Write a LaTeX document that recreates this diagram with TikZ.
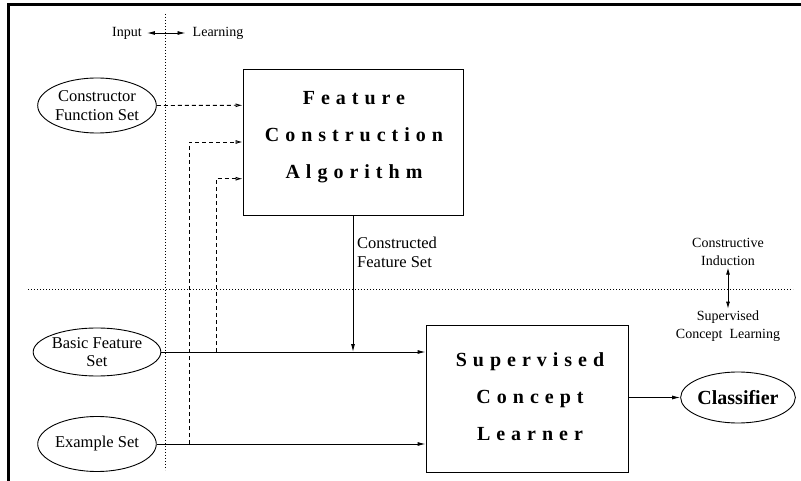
\documentclass[tikz,border=0pt]{standalone}
\usepackage{fontspec}
\setmainfont{Liberation Serif}
\usetikzlibrary{arrows.meta,shapes.geometric,calc}

\tikzset{
  setell/.style={ellipse, draw, line width=0.9pt, inner sep=0pt,
    minimum width=110pt, minimum height=55pt, align=center,
    font=\fontsize{16.5}{18.5}\selectfont},
  bigbox/.style={rectangle, draw, line width=0.9pt, inner sep=0pt},
  boxtext/.style={align=center, inner sep=0pt,
    font=\fontsize{20}{37}\selectfont\bfseries\addfontfeature{LetterSpace=30}},
  smalltxt/.style={align=center, inner sep=2pt, font=\fontsize{14}{17.5}\selectfont},
  solidarrow/.style={line width=0.9pt, -{Latex[length=8pt,width=4pt]}},
  dasharrow/.style={line width=0.9pt, dash pattern=on 4pt off 3pt,
    -{Latex[open,length=7pt,width=4pt]}},
  sepline/.style={line width=0.8pt, dash pattern=on 0.8pt off 2.2pt}
}

\begin{document}
\begin{tikzpicture}[x=1pt, y=-1pt]
    \useasboundingbox (0,0) rectangle (801,481);

    % 外框 (只有上边和左边)
    \draw[line width=3pt] (8.6,481) -- (8.6,4.5) -- (801,4.5);

    % 1. 两条点线分区
    \draw[sepline] (165,14) -- (165,470);
    \draw[sepline] (28,289) -- (793,289);

    % 2. Input / Learning 标注
    \node[smalltxt] (inp) at (127,33) {Input};
    \node[smalltxt] (lrn) at (218,33) {Learning};
    \draw[line width=0.9pt, {Latex[length=8pt,width=4pt]}-{Latex[length=8pt,width=4pt]}]
      ([xshift=3pt]inp.east) -- ([xshift=-5pt]lrn.west);

    % 3. 输入集合 (椭圆)
    \node[setell] (cfs) at (97,105.5) {Constructor\\Function Set};
    \node[setell, minimum height=48pt] (bfs) at (97,352) {Basic Feature\\Set};
    \node[setell] (exs) at (97,444) {Example Set};

    % 4. 两个方框
    \node[bigbox, minimum width=220pt, minimum height=146pt] (fca) at (353,142) {};
    \node[boxtext] (fcat) at (354,137) {Feature\\Construction\\Algorithm};
    \node[bigbox, minimum width=202pt, minimum height=147pt] (scl) at (527,398.5) {};
    \node[boxtext] (sclt) at (530,397) {Supervised\\Concept\\Learner};

    % 5. 分类器
    \node[ellipse, draw, line width=0.9pt, inner sep=0pt, minimum width=110pt,
      minimum height=51pt, font=\fontsize{20}{24}\selectfont\bfseries] (cls)
      at (738,397.5) {Classifier};

    % 6. 虚线箭头 (进入特征构造算法)
    \coordinate (j1) at (189,444);
    \coordinate (j2) at (216,352);
    \draw[dasharrow] (cfs.east) -- ($(fca.west)!0.5!(fca.north west)$);
    \draw[dasharrow] (j1) |- (fca.west);
    \draw[dasharrow] (j2) |- ($(fca.west)!0.5!(fca.south west)$);

    % 7. 实线箭头
    \draw[solidarrow] (bfs.east) -- (bfs.east -| scl.west);
    \draw[solidarrow] (exs.east) -- (exs.east -| scl.west);
    \draw[solidarrow] (fca.south) -- (fca.south |- bfs.east);
    \node[smalltxt, anchor=north west, align=left, inner sep=0pt,
      font=\fontsize{16.5}{19}\selectfont] (cfl) at (357,237) {Constructed\\Feature Set};
    \draw[solidarrow] (scl.east |- cls.west) -- (cls.west);

    % 8. 右侧说明
    \node[smalltxt] (ci) at (728,252) {Constructive\\Induction};
    \node[smalltxt] (scn) at (728,326) {Supervised\\Concept~~Learning};
    \draw[line width=0.9pt, {Latex[length=7pt,width=4pt]}-{Latex[length=7pt,width=4pt]}]
      (ci.south) -- (scn.north);
  \end{tikzpicture}
\end{document}
